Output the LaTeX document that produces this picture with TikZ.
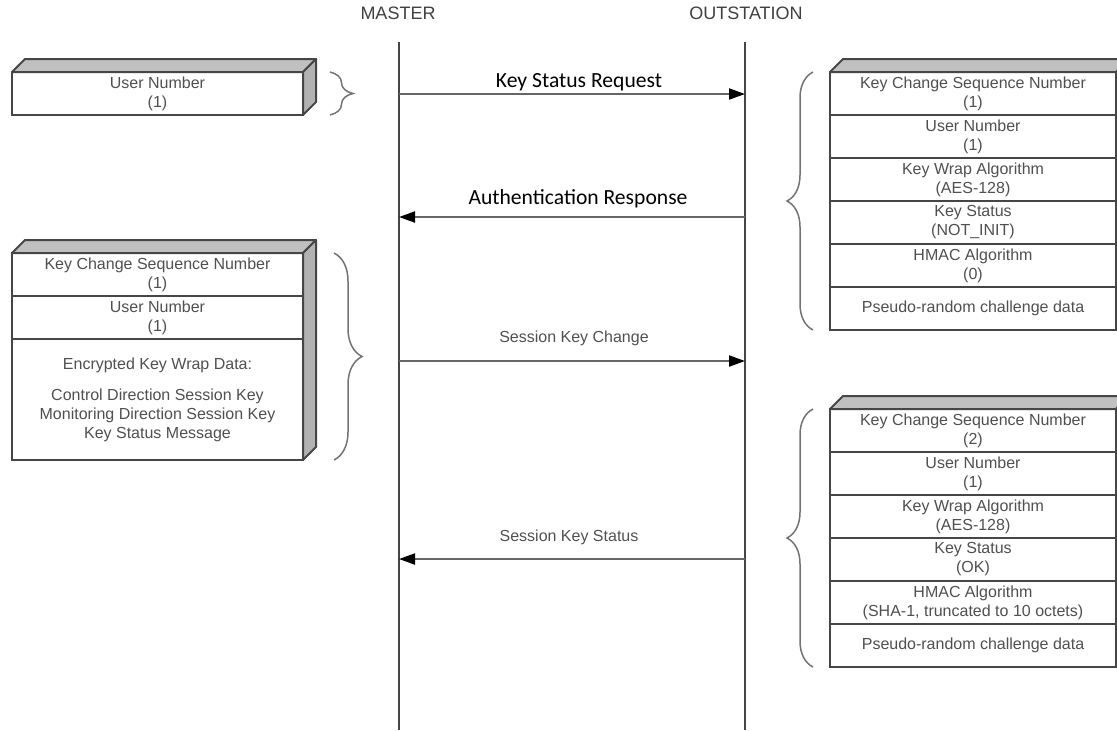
\documentclass[tikz,border=0pt]{standalone}
\usepackage{fontspec}
\setmainfont{Liberation Sans}
\newfontfamily\labelfont{Carlito}
\usetikzlibrary{positioning,arrows.meta,calc,decorations.pathreplacing}

\definecolor{linegray}{RGB}{70,70,70}
\definecolor{textgray}{RGB}{80,80,80}
\definecolor{facegray}{RGB}{192,192,192}
\definecolor{sidegray}{RGB}{178,178,178}
\definecolor{bracegray}{RGB}{115,115,115}

% top and right faces of a record stack: #1 top cell, #2 bottom cell
\newcommand{\slabfaces}[2]{%
  \draw[topface] (#1.north west) -- ++(13,-13) -- ($(#1.north east)+(13,-13)$) -- (#1.north east) -- cycle;
  \draw[sideface] (#1.north east) -- ++(13,-13) -- ($(#2.south east)+(13,-13)$) -- (#2.south east) -- cycle;
}

\begin{document}
\begin{tikzpicture}[x=0.5pt, y=-0.5pt,
    cell/.style={draw=linegray, line width=1pt, fill=white, outer sep=0pt, inner sep=0pt,
                 minimum width=145.5pt, minimum height=21.5pt, align=center,
                 text=textgray, font=\fontsize{8}{9.5}\selectfont},
    ocell/.style={cell, minimum width=143pt},
    topface/.style={fill=facegray, draw=linegray, line width=1pt, line join=round},
    sideface/.style={fill=sidegray, draw=linegray, line width=1pt, line join=round},
    life/.style={draw=linegray, line width=0.8pt},
    msg/.style={draw=black!60, line width=1pt, -{Triangle[length=8pt, width=5.5pt, color=black]}},
    head/.style={text=black!75, font=\fontsize{9}{11}\selectfont},
    biglbl/.style={inner sep=0pt, text=black, font=\labelfont\fontsize{10.8}{13}\selectfont},
    smalllbl/.style={inner sep=0pt, text=textgray, font=\fontsize{8}{9.5}\selectfont},
    grp/.style={draw=bracegray, line width=0.75pt, decorate, decoration={brace, amplitude=#1}}]
  \path[use as bounding box] (0,0) rectangle (1117,730);
  \clip (0,0) rectangle (1117,730);

  % the two parties and their lifelines
  \node[head] (master) at (398,13) {MASTER};
  \node[head] (outst) at (746,13) {OUTSTATION};
  \coordinate (m-top) at (399,42);
  \coordinate (m-bot) at (399,730);
  \coordinate (o-top) at (745,42);
  \coordinate (o-bot) at (745,730);
  \draw[life] (m-top) -- (m-bot);
  \draw[life] (o-top) -- (o-bot);

  \foreach \n/\y in {ksr/94, ar/217, skc/361, sks/559} {
    \coordinate (m-\n) at (399,\y);
    \coordinate (o-\n) at (745,\y);
  }

  % messages
  \draw[msg] (m-ksr) -- node[biglbl, above=1pt, xshift=3.5pt] {Key Status Request} (o-ksr);
  \draw[msg] (o-ar) -- node[biglbl, above=4pt, xshift=3pt] {Authentication Response} (m-ar);
  \draw[msg] (m-skc) -- node[smalllbl, above=7pt, xshift=1pt] {Session Key Change} (o-skc);
  \draw[msg] (o-sks) -- node[smalllbl, above=6.5pt, xshift=-1.5pt] {Session Key Status} (m-sks);

  % key status request
  \node[cell, anchor=north west] (ua) at (12,72) {User Number\\(1)};
  \slabfaces{ua}{ua}
  \draw[grp=11.5pt] ($(ua.north east)+(27,0)$) -- ($(ua.south east)+(27,0)$);

  % session key change
  \node[cell, anchor=north west] (ka) at (12,253) {Key Change Sequence Number\\(1)};
  \node[cell, below=0pt of ka] (kb) {User Number\\(1)};
  \node[cell, below=0pt of kb, minimum height=60.5pt] (kc) {Encrypted Key Wrap Data:\\[6pt]Control Direction Session Key\\Monitoring Direction Session Key\\Key Status Message};
  \slabfaces{ka}{kc}
  \draw[grp=14pt] ($(ka.north east)+(31,0)$) -- ($(kc.south east)+(31,0)$);

  % authentication response
  \node[ocell, anchor=north west] (ra) at (830,72) {Key Change Sequence Number\\(1)};
  \node[ocell, below=0pt of ra] (rb) {User Number\\(1)};
  \node[ocell, below=0pt of rb] (rc) {Key Wrap Algorithm\\(AES-128)};
  \node[ocell, below=0pt of rc] (rd) {Key Status\\(NOT\_INIT)};
  \node[ocell, below=0pt of rd] (re) {HMAC Algorithm\\(0)};
  \node[ocell, below=0pt of re] (rf) {Pseudo-random challenge data};
  \slabfaces{ra}{rf}
  \draw[grp=13pt] ($(rf.south west)+(-17,0)$) -- ($(ra.north west)+(-17,0)$);

  % session key status
  \node[ocell, anchor=north west] (sa) at (830,409) {Key Change Sequence Number\\(2)};
  \node[ocell, below=0pt of sa] (sb) {User Number\\(1)};
  \node[ocell, below=0pt of sb] (sc) {Key Wrap Algorithm\\(AES-128)};
  \node[ocell, below=0pt of sc] (sd) {Key Status\\(OK)};
  \node[ocell, below=0pt of sd] (se) {HMAC Algorithm\\(SHA-1, truncated to 10 octets)};
  \node[ocell, below=0pt of se] (sf) {Pseudo-random challenge data};
  \slabfaces{sa}{sf}
  \draw[grp=13pt] ($(sf.south west)+(-17,0)$) -- ($(sa.north west)+(-17,0)$);
\end{tikzpicture}
\end{document}
